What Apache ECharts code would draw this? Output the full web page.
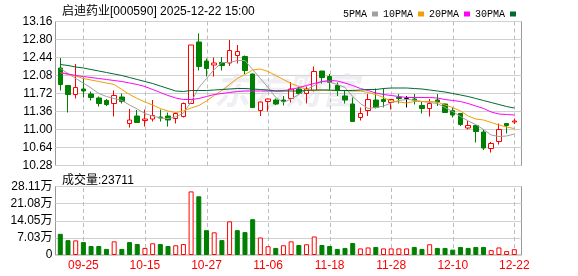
<!DOCTYPE html>
<html><head><meta charset="utf-8">
<script src="https://cdn.jsdelivr.net/npm/echarts@6/dist/echarts.min.js"></script>
<style>html,body{margin:0;padding:0;background:#fff}#c{width:578px;height:276px}</style>
</head><body><div id="c"></div>
<script>
const stockTitle = '启迪药业[000590] 2025-12-22 15:00';
const dates = ['09-22','09-23','09-24','09-25','09-26','09-29','09-30','10-09','10-10','10-13','10-14','10-15','10-16','10-17','10-20','10-21','10-22','10-23','10-24','10-27','10-28','10-29','10-30','10-31','11-03','11-04','11-05','11-06','11-07','11-10','11-11','11-12','11-13','11-14','11-17','11-18','11-19','11-20','11-21','11-24','11-25','11-26','11-27','11-28','12-01','12-02','12-03','12-04','12-05','12-08','12-09','12-10','12-11','12-12','12-15','12-16','12-17','12-18','12-19','12-22'];
const opens  = [12.23,11.88,11.70,11.81,11.71,11.63,11.58,11.52,11.65,11.12,11.27,11.18,11.21,11.25,11.27,11.22,11.26,11.52,12.75,12.37,12.29,12.34,12.33,12.48,12.46,12.11,11.38,11.56,11.59,11.59,11.62,11.81,11.72,11.78,12.17,12.06,11.88,11.67,11.51,11.24,11.38,11.59,11.60,11.54,11.64,11.62,11.61,11.48,11.42,11.59,11.51,11.38,11.32,11.03,11.08,10.95,10.62,10.76,11.12,11.15];
const closes = [11.90,11.70,11.84,11.77,11.64,11.52,11.50,11.68,11.56,11.19,11.14,11.21,11.28,11.23,11.19,11.32,11.52,12.69,12.26,12.22,12.33,12.28,12.58,12.56,12.18,11.44,11.55,11.61,11.51,11.56,11.81,11.72,11.81,12.16,12.04,11.94,11.78,11.59,11.16,11.32,11.60,11.44,11.56,11.60,11.62,11.62,11.59,11.42,11.52,11.55,11.34,11.29,11.10,11.08,10.96,10.63,10.72,11.00,11.08,11.17];
const lows   = [11.78,11.34,11.62,11.64,11.58,11.46,11.47,11.26,11.52,11.04,11.14,11.06,11.16,11.16,11.06,11.12,11.24,11.52,12.18,12.06,12.06,12.18,12.27,12.32,12.11,11.43,11.27,11.36,11.49,11.48,11.54,11.70,11.52,11.76,11.92,11.78,11.67,11.52,11.16,11.18,11.27,11.42,11.44,11.40,11.52,11.44,11.50,11.32,11.26,11.47,11.33,11.24,11.07,11.00,10.74,10.59,10.54,10.70,10.92,11.11];
const highs  = [12.43,11.88,12.31,12.04,11.76,11.66,11.61,11.78,11.72,11.41,11.39,11.40,11.59,11.40,11.34,11.34,11.54,12.69,12.92,12.42,12.44,12.45,12.79,12.69,12.48,12.12,11.56,11.62,11.62,11.67,11.95,11.86,11.86,12.26,12.17,12.11,11.94,11.78,11.64,11.44,11.71,11.82,11.82,11.61,11.71,11.67,11.71,11.55,11.61,11.71,11.52,11.44,11.33,11.17,11.09,11.00,10.75,11.12,11.12,11.22];
const volumes = [87000,61000,60000,53000,37000,37000,25000,56000,25000,53000,45000,29000,48000,45000,37000,40000,45000,261000,241000,102000,93000,61000,138000,102000,94000,147000,72000,36000,29000,40000,56000,41000,44000,76000,41000,37000,25000,29000,49000,27000,31000,33000,27000,27000,27000,27000,33000,25000,44000,29000,29000,22000,33000,29000,33000,33000,20000,31000,16000,23711];
const volUp = [0,0,1,0,0,0,0,1,0,0, 0,1,1,0,0,1,1,1,0,0, 1,0,1,0,0,0,1,1,0,1, 1,0,1,1,0,0,0,0,0,1, 1,0,1,1,1,1,0,0,1,0, 0,0,0,0,0,0,1,1,1,1];
const ma5  = [12.22,12.12,12.02,11.93,11.83,11.72,11.66,11.62,11.58,11.49,11.41,11.32,11.27,11.23,11.22,11.25,11.33,11.55,11.84,12.02,12.20,12.34,12.34,12.38,12.38,12.20,12.02,11.84,11.64,11.54,11.61,11.70,11.80,11.88,11.96,11.95,11.90,11.84,11.66,11.52,11.42,11.44,11.47,11.53,11.58,11.60,11.59,11.56,11.54,11.52,11.44,11.36,11.26,11.17,11.10,11.00,10.89,10.86,10.87,10.91];
const ma10 = [12.14,12.10,12.07,12.02,11.99,11.96,11.93,11.90,11.80,11.70,11.62,11.55,11.49,11.42,11.37,11.34,11.37,11.43,11.48,11.57,11.68,11.78,11.90,12.02,12.10,12.19,12.21,12.16,12.08,12.00,11.92,11.86,11.80,11.78,11.79,11.78,11.78,11.78,11.77,11.77,11.74,11.70,11.64,11.57,11.55,11.53,11.56,11.56,11.56,11.55,11.49,11.44,11.37,11.27,11.21,11.19,11.14,11.09,11.05,11.02];
const ma20 = [12.14,12.11,12.08,12.06,12.04,12.02,12.00,11.98,11.96,11.93,11.90,11.86,11.80,11.74,11.68,11.63,11.60,11.60,11.62,11.66,11.70,11.72,11.74,11.76,11.77,11.77,11.77,11.77,11.77,11.78,11.80,11.84,11.88,11.92,11.96,11.98,11.97,11.93,11.88,11.82,11.78,11.73,11.70,11.68,11.66,11.64,11.64,11.64,11.64,11.63,11.60,11.58,11.56,11.52,11.47,11.42,11.35,11.31,11.30,11.29];
const ma30 = [12.30,12.28,12.25,12.23,12.20,12.17,12.14,12.11,12.08,12.04,12.00,11.96,11.92,11.87,11.82,11.77,11.76,11.78,11.78,11.78,11.79,11.80,11.81,11.82,11.82,11.81,11.80,11.79,11.77,11.77,11.77,11.77,11.78,11.79,11.79,11.79,11.78,11.78,11.78,11.79,11.80,11.80,11.82,11.83,11.83,11.83,11.82,11.81,11.79,11.77,11.75,11.72,11.69,11.66,11.62,11.58,11.54,11.50,11.46,11.43];
const priceTicks = ['10.28','10.64','11.00','11.36','11.72','12.08','12.44','12.80','13.16'];
const volTicks = ['0','7.03万','14.05万','21.08万','28.11万'];
const priceMin = 10.28, priceMax = 13.16, volMax = 281100;
const maNames = ['5PMA','10PMA','20PMA','30PMA'];

const RED = '#ff0000', GREEN = '#008000';
const FRAME_L = 55.5, FRAME_W = 466, DATA_L = 56.45, DATA_W = 461.7;
const MAIN_T = 21.5, MAIN_H = 144, VOL_T = 186.5, VOL_H = 68.5;
const lblFont = "'Liberation Sans', Arial, sans-serif";

const candleData = opens.map((o, i) => [o, closes[i], lows[i], highs[i]]);
const volData = volumes.map((v, i) => ({
  value: v,
  itemStyle: volUp[i] ? {color: '#ffffff', borderColor: RED, borderWidth: 1}
                      : {color: GREEN, borderColor: GREEN, borderWidth: 1}
}));
const labelEvery = (idx) => (idx - 3) % 8 === 0;
const maColors = ['#a0a0a0', '#f0a000', '#ff00ff', '#006a30'];
const maData = [ma5, ma10, ma20, ma30];
const labelIdx = dates.map((d, i) => i).filter(labelEvery);

function dashedCol(lo, hi) {
  return function (params, api) {
    const p0 = api.coord([api.value(0), lo]);
    const p1 = api.coord([api.value(0), hi]);
    const x = Math.round(p0[0]) + 0.5;
    return {type: 'line', silent: true,
      shape: {x1: x, y1: p0[1], x2: x, y2: p1[1]},
      style: {stroke: '#bcbcbc', lineWidth: 1, lineDash: [4, 3]}};
  };
}

const chart = echarts.init(document.getElementById('c'), null, {renderer: 'canvas'});
chart.setOption({
  animation: false,
  backgroundColor: '#ffffff',
  title: [
    {text: stockTitle, left: 57, top: 1, textStyle: {fontSize: 12, fontWeight: 'normal', color: '#000', fontFamily: "'Liberation Sans','Noto Sans CJK SC',sans-serif"}},
    {text: '成交量:' + volumes[volumes.length - 1], left: 57, top: 170, textStyle: {fontSize: 12, fontWeight: 'normal', color: '#000', fontFamily: "'Liberation Sans','Noto Sans CJK SC',sans-serif"}}
  ],
  legend: {
    data: maNames, left: 338, top: 4, align: 'right', icon: 'rect',
    itemWidth: 6, itemHeight: 5, itemGap: 5, selectedMode: false,
    textStyle: {fontSize: 10, color: '#000', fontFamily: "'Liberation Mono', monospace", padding: 0}
  },
  graphic: [{
    type: 'text', left: 214, top: 72, z: 1, silent: true,
    style: {text: '东方财富', fill: 'rgba(222,222,232,0.5)', font: "italic bold 36px 'Noto Sans CJK SC'"}
  }],
  grid: [
    {left: FRAME_L, top: MAIN_T, width: FRAME_W, height: MAIN_H, show: true, borderColor: '#999', borderWidth: 1, backgroundColor: 'transparent'},
    {left: DATA_L, top: MAIN_T, width: DATA_W, height: MAIN_H},
    {left: FRAME_L, top: VOL_T, width: FRAME_W, height: VOL_H, show: true, borderColor: '#999', borderWidth: 1, backgroundColor: 'transparent'},
    {left: DATA_L, top: VOL_T, width: DATA_W, height: VOL_H}
  ],
  xAxis: [
    {gridIndex: 0, type: 'value', min: 0, max: 1, show: false},
    {gridIndex: 1, type: 'category', data: dates, boundaryGap: true,
      axisLine: {show: false}, axisTick: {show: false}, axisLabel: {show: false}, splitLine: {show: false}},
    {gridIndex: 2, type: 'value', min: 0, max: 1, show: false},
    {gridIndex: 3, type: 'category', data: dates, boundaryGap: true,
      axisLine: {show: false}, axisTick: {show: false},
      axisLabel: {show: true, interval: labelEvery, color: RED, fontSize: 12, fontFamily: lblFont, margin: 5},
      splitLine: {show: false}}
  ],
  yAxis: [
    {gridIndex: 0, type: 'value', min: 0, max: priceTicks.length - 1, interval: 1,
      axisLine: {show: false}, axisTick: {show: false},
      axisLabel: {formatter: (v) => priceTicks[v], color: '#000', fontSize: 12, fontFamily: lblFont, margin: 3},
      splitLine: {show: true, lineStyle: {color: '#d0d0d0'}}},
    {gridIndex: 1, type: 'value', min: priceMin, max: priceMax, show: false, splitLine: {show: false}},
    {gridIndex: 2, type: 'value', min: 0, max: volTicks.length - 1, interval: 1,
      axisLine: {show: false}, axisTick: {show: false},
      axisLabel: {formatter: (v) => volTicks[v], color: '#000', fontSize: 12, fontFamily: "'Liberation Sans Narrow','Liberation Sans','Noto Sans CJK SC',sans-serif", margin: 3},
      splitLine: {show: true, lineStyle: {color: '#d0d0d0'}}},
    {gridIndex: 3, type: 'value', min: 0, max: volMax, show: false, splitLine: {show: false}}
  ],
  series: [
    {type: 'custom', xAxisIndex: 1, yAxisIndex: 1, data: labelIdx.map(i => [i]), z: 10, silent: true,
      clip: false, renderItem: dashedCol(priceMin, priceMax)},
    {type: 'custom', xAxisIndex: 3, yAxisIndex: 3, data: labelIdx.map(i => [i]), z: 10, silent: true,
      clip: false, renderItem: dashedCol(0, volMax)},
    {type: 'candlestick', xAxisIndex: 1, yAxisIndex: 1, data: candleData, barWidth: 5, z: 11,
      itemStyle: {color: '#ffffff', color0: GREEN, borderColor: RED, borderColor0: GREEN, borderColorDoji: '#000000', borderWidth: 1}},
    ...maNames.map((n, k) => ({
      name: n, type: 'line', xAxisIndex: 1, yAxisIndex: 1, data: maData[k],
      showSymbol: false, symbol: 'none', z: 12, color: maColors[k],
      lineStyle: {width: 1, color: maColors[k]}
    })),
    {type: 'bar', xAxisIndex: 3, yAxisIndex: 3, data: volData, barWidth: 5, z: 11}
  ]
});
</script></body></html>
